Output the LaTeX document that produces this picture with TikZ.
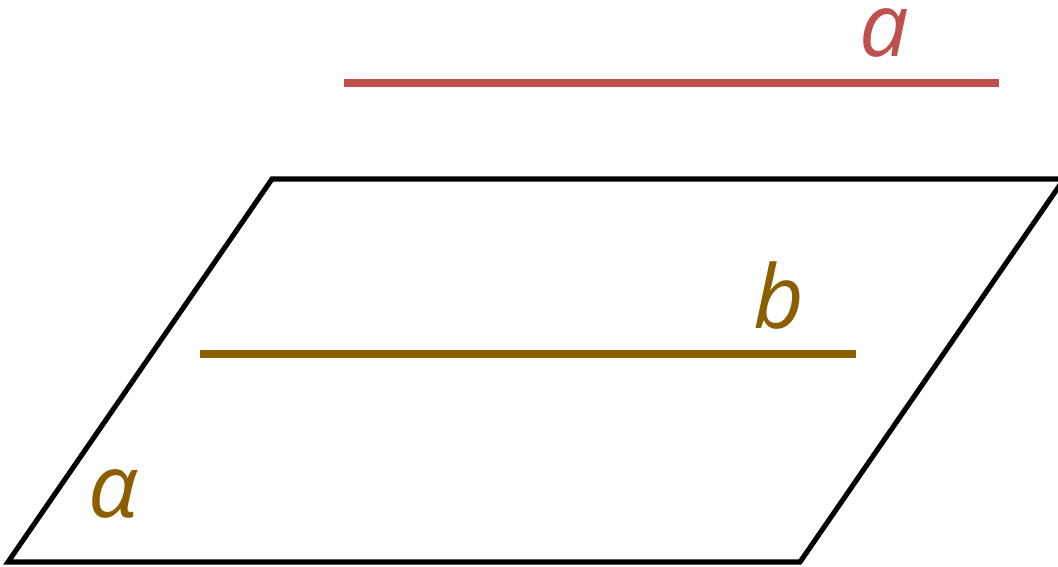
\documentclass[tikz,border=0pt]{standalone}
\usepackage{fontspec}
\setmainfont{Open Sans}
\usetikzlibrary{positioning}
\definecolor{linered}{RGB}{192,80,77}
\definecolor{linebrown}{RGB}{140,94,0}

\begin{document}
\begin{tikzpicture}[x=0.01cm, y=-0.01cm,
    plane/.style={draw=black, line width=1.45pt, line join=miter},
    seg/.style={line width=2.3pt},
    lbl/.style={inner sep=0pt, font=\fontsize{25}{30}\selectfont\itshape}
  ]
    \useasboundingbox (0,0) rectangle (1058,566);
    \begin{scope}
      \clip (0,0) rectangle (1058,566);
      % plane alpha
      \coordinate (P1) at (272,179);
      \coordinate (P2) at (1064,179);
      \coordinate (P3) at (800,562);
      \coordinate (P4) at (8,562);
      \draw[plane] (P1) -- (P2) -- (P3) -- (P4) -- cycle;
    \end{scope}
    % line a
    \coordinate (A1) at (344,83);
    \coordinate (A2) at (999,83);
    \draw[seg, linered] (A1) -- (A2);
    % line b
    \coordinate (B1) at (200,354);
    \coordinate (B2) at (856,354);
    \draw[seg, linebrown] (B1) -- (B2);
    % labels
    \node[lbl, text=linered] (la) at (884,33) {a};
    \node[lbl, text=linebrown] (lb) at (779,296) {b};
    \node[lbl, text=linebrown] (lal) at (113,494) {α};
  \end{tikzpicture}
\end{document}
